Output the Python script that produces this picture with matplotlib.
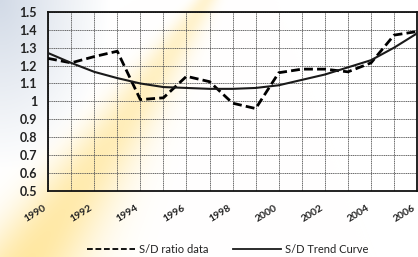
import matplotlib
matplotlib.use("Agg")
import matplotlib.pyplot as plt
import numpy as np

plt.rcParams['font.family'] = ['Lato', 'DejaVu Sans']

years = list(range(1990, 2007))
sd_ratio = [1.24, 1.215, 1.25, 1.28, 1.01, 1.02, 1.14, 1.11, 0.99, 0.96,
            1.16, 1.18, 1.18, 1.165, 1.215, 1.37, 1.39]
sd_trend = [1.27, 1.215, 1.165, 1.13, 1.10, 1.08, 1.075, 1.07, 1.07, 1.075,
            1.09, 1.12, 1.15, 1.19, 1.23, 1.30, 1.38]
year_labels = [1990, 1992, 1994, 1996, 1998, 2000, 2002, 2004, 2006]
y_ticks = [0.5, 0.6, 0.7, 0.8, 0.9, 1.0, 1.1, 1.2, 1.3, 1.4, 1.5]
y_labels = ['0.5', '0.6', '0.7', '0.8', '0.9', '1', '1.1', '1.2', '1.3', '1.4', '1.5']

fig = plt.figure(figsize=(4.18, 2.57), dpi=100)

# tinted paper background: yellow wedge rising to the top, greyish top-left
bg = fig.add_axes([0, 0, 1, 1], zorder=-5)
H, W = 257, 418
yy, xx = np.mgrid[0:H, 0:W].astype(float)
t = yy / H
cx = 205 - 175 * t            # centre of the band at each row
half = 12 + 45 * t            # half width grows towards the bottom
band = np.exp(-((xx - cx) / half) ** 2) * (0.35 + 0.35 * t)
left = (xx < cx)
grey = np.clip(1 - np.hypot(xx / 110.0, yy / 170.0), 0, 1) * left
img = np.ones((H, W, 3))
yellow = np.array([1.0, 0.87, 0.48])
bluegrey = np.array([0.78, 0.82, 0.88])
for c in range(3):
    img[..., c] = img[..., c] * (1 - band) + yellow[c] * band
    img[..., c] = img[..., c] * (1 - 0.8 * grey) + bluegrey[c] * 0.8 * grey
bg.imshow(img, aspect='auto', extent=[0, 1, 0, 1])
bg.axis('off')

ax = fig.add_axes([0.115, 0.257, 0.883, 0.697])
ax.set_facecolor('none')
ax.plot(years, sd_ratio, color='black', linestyle=(0, (3.2, 1.5)), linewidth=2.0,
        label='S/D ratio data', zorder=3)
ax.plot(years, sd_trend, color='#1a1a1a', linewidth=1.5, label='S/D Trend Curve', zorder=3)

ax.set_xlim(1990, 2006)
ax.set_ylim(0.5, 1.5)
ax.set_xticks(years, minor=True)
ax.set_xticks(year_labels)
ax.set_xticklabels([str(y) for y in year_labels], rotation=32, ha='right',
                   fontsize=7.5, fontweight='bold', color='#222222')
ax.set_yticks(y_ticks)
ax.set_yticklabels(y_labels, fontsize=9, fontweight='bold', color='#222222')
ax.tick_params(axis='x', which='both', length=0, pad=9)
ax.tick_params(axis='y', which='both', length=0, pad=8)
ax.grid(True, which='both', color='#555555', linewidth=0.6, linestyle=(0, (1.5, 0.7)))
for s in ax.spines.values():
    s.set_color('#111111')
    s.set_linewidth(1.3)

leg = fig.legend(loc='lower center', bbox_to_anchor=(0.545, -0.03), ncol=2, frameon=False,
                 fontsize=8, handlelength=4.3, handletextpad=0.4, columnspacing=2.2)
for txt in leg.get_texts():
    txt.set_color('#222222')
for ln in leg.get_lines():
    ln.set_linewidth(1.3)

fig.savefig('out.png', dpi=100)
